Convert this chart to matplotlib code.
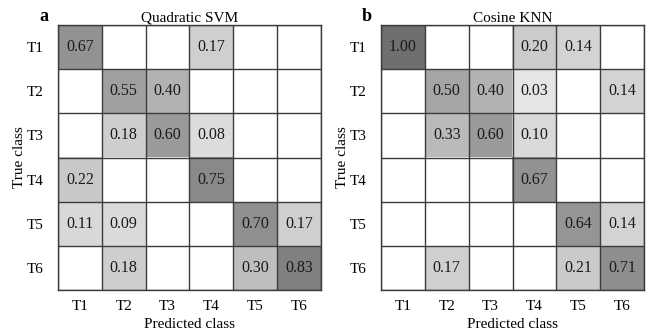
import numpy as np
import matplotlib
matplotlib.use("Agg")
import matplotlib.pyplot as plt
from matplotlib.colors import LinearSegmentedColormap, PowerNorm

plt.rcParams['font.family'] = ['Liberation Serif', 'DejaVu Serif']

classes = ["T1", "T2", "T3", "T4", "T5", "T6"]

# confusion matrices (rows = true class, cols = predicted class), 0 = empty cell
svm_values = np.array([
    [0.67, 0,    0,    0.17, 0,    0],
    [0,    0.55, 0.40, 0,    0,    0],
    [0,    0.18, 0.60, 0.08, 0,    0],
    [0.22, 0,    0,    0.75, 0,    0],
    [0.11, 0.09, 0,    0,    0.70, 0.17],
    [0,    0.18, 0,    0,    0.30, 0.83],
])
knn_values = np.array([
    [1.00, 0,    0,    0.20, 0.14, 0],
    [0,    0.50, 0.40, 0.03, 0,    0.14],
    [0,    0.33, 0.60, 0.10, 0,    0],
    [0,    0,    0,    0.67, 0,    0],
    [0,    0,    0,    0,    0.64, 0.14],
    [0,    0.17, 0,    0,    0.21, 0.71],
])

panels = [("a", "Quadratic SVM", svm_values), ("b", "Cosine KNN", knn_values)]

cmap = LinearSegmentedColormap.from_list("cm_gray", ["#ebebeb", "#6f6f6f"])
norm = PowerNorm(gamma=0.85, vmin=0, vmax=1)

fig = plt.figure(figsize=(6.53, 3.33), dpi=100)
lefts = [58 / 653, 381 / 653]
bottom = 1 - 290 / 333
width = 263 / 653
height = 265 / 333

for left, (letter, title, vals) in zip(lefts, panels):
    ax = fig.add_axes([left, bottom, width, height])
    masked = np.ma.masked_equal(vals, 0)
    ax.imshow(masked, cmap=cmap, norm=norm, aspect="auto")
    n = len(classes)
    for i in range(n):
        for j in range(n):
            if vals[i, j] > 0:
                ax.text(j, i, f"{vals[i, j]:.2f}", ha="center", va="center",
                        fontsize=11.5, color="#1a1a1a")
    # cell borders
    for k in range(n + 1):
        ax.axhline(k - 0.5, color="#3c3c3c", lw=1.0)
        ax.axvline(k - 0.5, color="#3c3c3c", lw=1.0)
    ax.set_xlim(-0.5, n - 0.5)
    ax.set_ylim(n - 0.5, -0.5)
    ax.set_xticks(range(n))
    ax.set_yticks(range(n))
    ax.set_xticklabels(classes, fontsize=11)
    ax.set_yticklabels(classes, fontsize=11)
    ax.tick_params(axis="y", length=0, pad=10)
    ax.tick_params(axis="x", length=0, pad=7)
    for s in ax.spines.values():
        s.set_color("#3c3c3c")
        s.set_linewidth(1.0)
    ax.set_xlabel("Predicted class", fontsize=11, labelpad=4)
    ax.set_ylabel("True class", fontsize=11, labelpad=1)
    ax.set_title(title, fontsize=11, pad=2)
    ax.text(-0.055, 1.0, letter, transform=ax.transAxes, fontsize=13,
            fontweight="bold", ha="center", va="bottom")

fig.savefig("out.png", dpi=100, facecolor="white")
